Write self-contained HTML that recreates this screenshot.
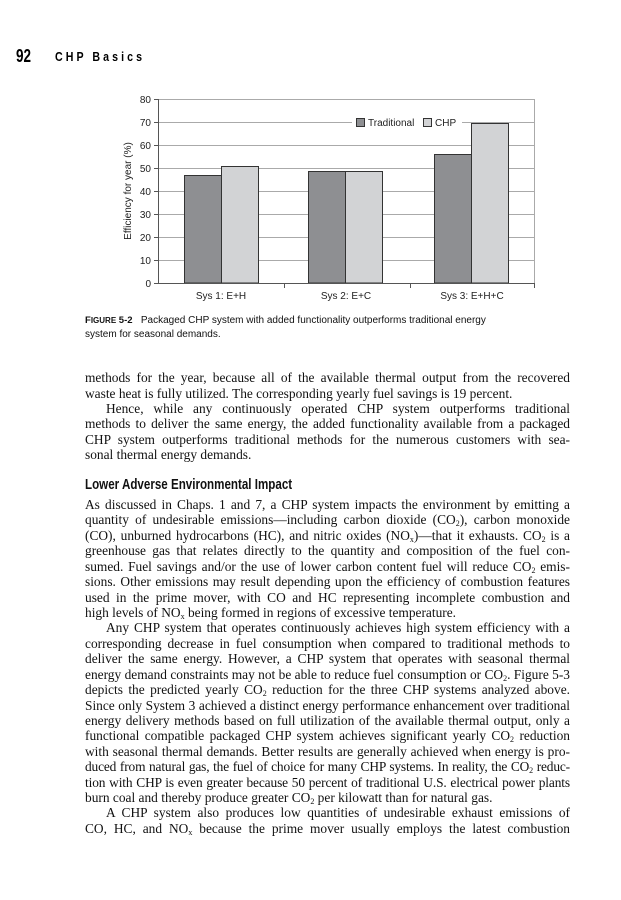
<!DOCTYPE html>
<html><head><meta charset="utf-8"><style>
body{margin:0;background:#fff;}
#p{position:relative;width:621px;height:900px;overflow:hidden;background:#fff;}
.l{position:absolute;left:85px;width:485px;font-family:"Liberation Serif",serif;font-size:13.4px;line-height:15px;color:#111;white-space:nowrap;text-align:justify;text-align-last:justify;}
.l.e{text-align-last:left;}
.i{text-indent:21px;}
sub{font-size:8px;vertical-align:-2px;line-height:0;}
.s{font-family:"Liberation Sans",sans-serif;}
</style></head><body><div id="p">
<div class="s" style="position:absolute;left:16px;top:46px;font-size:18px;font-weight:bold;transform:scaleX(0.75);transform-origin:left;">92</div>
<div class="s" style="position:absolute;left:55px;top:50px;font-size:12.5px;font-weight:bold;letter-spacing:3.6px;transform:scaleX(0.85);transform-origin:left;">CHP Basics</div>

<svg style="position:absolute;left:0;top:0" width="621" height="310" font-family="Liberation Sans, sans-serif" font-size="10">
<g stroke="#aaa" stroke-width="1">
<line x1="158" x2="535" y1="99.5" y2="99.5"/><line x1="158" x2="535" y1="122.5" y2="122.5"/><line x1="158" x2="535" y1="145.5" y2="145.5"/><line x1="158" x2="535" y1="168.5" y2="168.5"/><line x1="158" x2="535" y1="191.5" y2="191.5"/><line x1="158" x2="535" y1="214.5" y2="214.5"/><line x1="158" x2="535" y1="237.5" y2="237.5"/><line x1="158" x2="535" y1="260.5" y2="260.5"/>
<line x1="534.5" x2="534.5" y1="99" y2="283"/>
</g>
<g stroke="#333" stroke-width="1">
<rect x="184.5" y="175.5" width="37" height="107.5" fill="#8e8f92"/>
<rect x="221.5" y="166.5" width="37" height="116.5" fill="#d2d3d5"/>
<rect x="308.5" y="171.5" width="37" height="111.5" fill="#8e8f92"/>
<rect x="345.5" y="171.5" width="37" height="111.5" fill="#d2d3d5"/>
<rect x="434.5" y="154.5" width="37" height="128.5" fill="#8e8f92"/>
<rect x="471.5" y="123.5" width="37" height="159.5" fill="#d2d3d5"/>
</g>
<g stroke="#555" stroke-width="1">
<line x1="158.5" x2="158.5" y1="99" y2="283"/>
<line x1="154" x2="535" y1="283.5" y2="283.5"/>
<line x1="154" x2="158" y1="99.5" y2="99.5"/><line x1="154" x2="158" y1="122.5" y2="122.5"/><line x1="154" x2="158" y1="145.5" y2="145.5"/><line x1="154" x2="158" y1="168.5" y2="168.5"/><line x1="154" x2="158" y1="191.5" y2="191.5"/><line x1="154" x2="158" y1="214.5" y2="214.5"/><line x1="154" x2="158" y1="237.5" y2="237.5"/><line x1="154" x2="158" y1="260.5" y2="260.5"/>
<line x1="284.5" x2="284.5" y1="283" y2="288"/><line x1="410.5" x2="410.5" y1="283" y2="288"/><line x1="534.5" x2="534.5" y1="283" y2="288"/>
</g>
<g text-anchor="end" fill="#222">
<text x="151" y="103">80</text><text x="151" y="126">70</text><text x="151" y="149">60</text><text x="151" y="172">50</text><text x="151" y="195">40</text><text x="151" y="218">30</text><text x="151" y="241">20</text><text x="151" y="264">10</text><text x="151" y="287">0</text>
</g>
<text transform="translate(131,191) rotate(-90)" text-anchor="middle" fill="#222">Efficiency for year (%)</text>
<g text-anchor="middle" fill="#222">
<text x="221" y="299">Sys 1: E+H</text><text x="346" y="299">Sys 2: E+C</text><text x="472" y="299">Sys 3: E+H+C</text>
</g>
<rect x="352" y="115" width="110" height="14" fill="#fff"/>
<rect x="356.5" y="118.5" width="8" height="8" fill="#8e8f92" stroke="#333"/>
<text x="368" y="126" fill="#222">Traditional</text>
<rect x="423.5" y="118.5" width="8" height="8" fill="#d2d3d5" stroke="#333"/>
<text x="435" y="126" fill="#222">CHP</text>
<line x1="85" x2="570" y1="311" y2="311" stroke="#000" stroke-width="1.5"/>
</svg>
<div class="s" style="position:absolute;left:85px;top:314px;font-size:10px;line-height:14px;color:#111;"><b style="font-size:9.5px;">F<span style="font-size:8px">IGURE</span> 5-2</b>&nbsp;&nbsp;&nbsp;Packaged CHP system with added functionality outperforms traditional energy<br>system for seasonal demands.</div>

<div class="l" style="top:370px">methods for the year, because all of the available thermal output from the recovered</div>
<div class="l e" style="top:386px">waste heat is fully utilized. The corresponding yearly fuel savings is 19 percent.</div>
<div class="l i" style="top:401px">Hence, while any continuously operated CHP system outperforms traditional</div>
<div class="l" style="top:416px">methods to deliver the same energy, the added functionality available from a packaged</div>
<div class="l" style="top:432px">CHP system outperforms traditional methods for the numerous customers with sea-</div>
<div class="l e" style="top:447px">sonal thermal energy demands.</div>
<div class="s" style="position:absolute;left:85px;top:477px;font-size:14.5px;font-weight:bold;transform:scaleX(0.8);transform-origin:left;color:#111;">Lower Adverse Environmental Impact</div>
<div class="l" style="top:497px">As discussed in Chaps. 1 and 7, a CHP system impacts the environment by emitting a</div>
<div class="l" style="top:512px">quantity of undesirable emissions—including carbon dioxide (CO<sub>2</sub>), carbon monoxide</div>
<div class="l" style="top:528px">(CO), unburned hydrocarbons (HC), and nitric oxides (NO<sub>x</sub>)—that it exhausts. CO<sub>2</sub> is a</div>
<div class="l" style="top:543px">greenhouse gas that relates directly to the quantity and composition of the fuel con-</div>
<div class="l" style="top:559px">sumed. Fuel savings and/or the use of lower carbon content fuel will reduce CO<sub>2</sub> emis-</div>
<div class="l" style="top:574px">sions. Other emissions may result depending upon the efficiency of combustion features</div>
<div class="l" style="top:590px">used in the prime mover, with CO and HC representing incomplete combustion and</div>
<div class="l e" style="top:605px">high levels of NO<sub>x</sub> being formed in regions of excessive temperature.</div>
<div class="l i" style="top:620px">Any CHP system that operates continuously achieves high system efficiency with a</div>
<div class="l" style="top:636px">corresponding decrease in fuel consumption when compared to traditional methods to</div>
<div class="l" style="top:651px">deliver the same energy. However, a CHP system that operates with seasonal thermal</div>
<div class="l" style="top:667px">energy demand constraints may not be able to reduce fuel consumption or CO<sub>2</sub>. Figure 5-3</div>
<div class="l" style="top:682px">depicts the predicted yearly CO<sub>2</sub> reduction for the three CHP systems analyzed above.</div>
<div class="l" style="top:698px">Since only System 3 achieved a distinct energy performance enhancement over traditional</div>
<div class="l" style="top:713px">energy delivery methods based on full utilization of the available thermal output, only a</div>
<div class="l" style="top:728px">functional compatible packaged CHP system achieves significant yearly CO<sub>2</sub> reduction</div>
<div class="l" style="top:744px">with seasonal thermal demands. Better results are generally achieved when energy is pro-</div>
<div class="l" style="top:759px;letter-spacing:-0.15px;">duced from natural gas, the fuel of choice for many CHP systems. In reality, the CO<sub>2</sub> reduc-</div>
<div class="l" style="top:775px;letter-spacing:-0.12px;">tion with CHP is even greater because 50 percent of traditional U.S. electrical power plants</div>
<div class="l e" style="top:790px">burn coal and thereby produce greater CO<sub>2</sub> per kilowatt than for natural gas.</div>
<div class="l i" style="top:805px">A CHP system also produces low quantities of undesirable exhaust emissions of</div>
<div class="l" style="top:821px">CO, HC, and NO<sub>x</sub> because the prime mover usually employs the latest combustion</div>
</div></body></html>
